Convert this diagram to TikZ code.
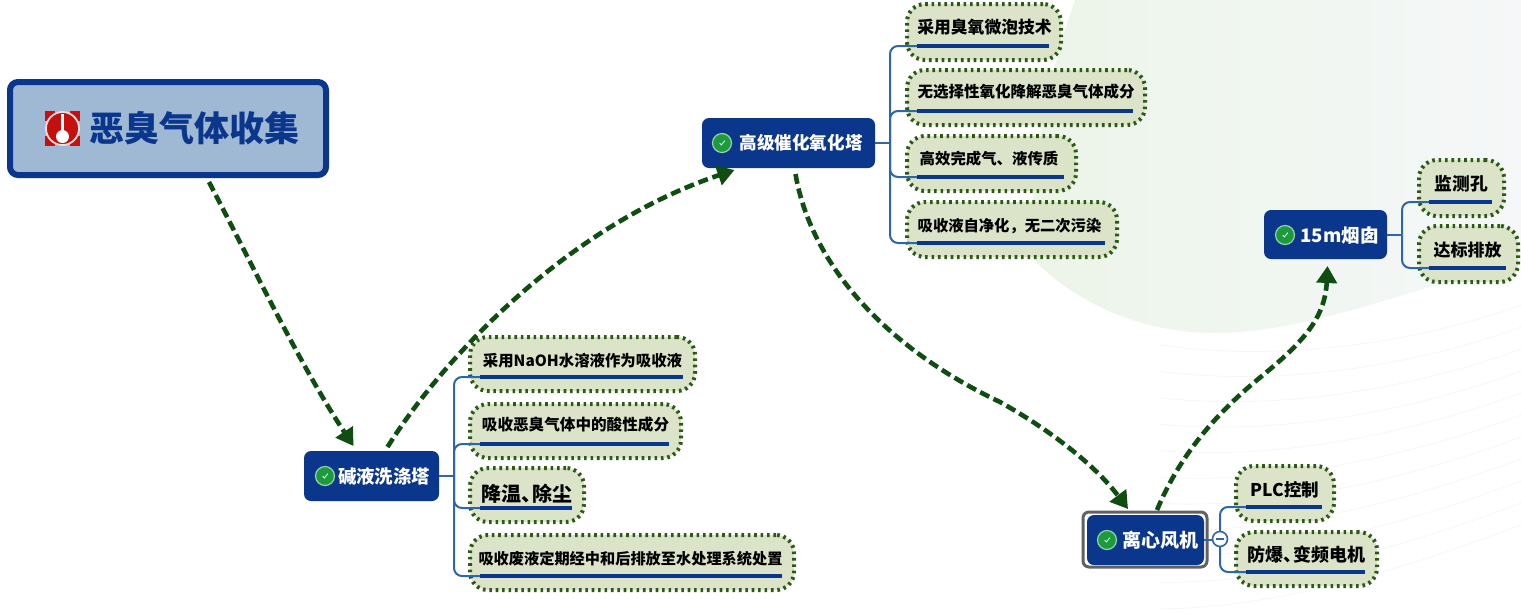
\documentclass[tikz,border=0pt]{standalone}
\usepackage{fontspec}
\setmainfont{Noto Sans CJK SC}
\usetikzlibrary{arrows.meta,calc}
\definecolor{navy}{HTML}{0A368C}
\definecolor{rootfill}{HTML}{9FB9D5}
\definecolor{leaffill}{HTML}{DBE3C9}
\definecolor{dotgreen}{HTML}{2C5A14}
\definecolor{flowgreen}{HTML}{0F4D10}
\definecolor{branchblue}{HTML}{2F66A8}
\definecolor{okgreen}{HTML}{1C9A3C}
\definecolor{alarm}{HTML}{C4100F}
\definecolor{blobleft}{HTML}{ECF5E9}
\definecolor{blobright}{HTML}{F5F7F8}
\tikzset{
  leafbox/.style={draw=dotgreen,fill=leaffill,line width=2pt,dash pattern=on 1.3pt off 1.9pt,rounded corners=9pt,inner sep=0pt,outer sep=0pt,font=\bfseries,text=black},
  hubbox/.style={fill=navy,rounded corners=3.5pt,inner sep=0pt,outer sep=0pt,font=\bfseries,text=white},
  selbox/.style={draw=black!62,fill=white,line width=1.5pt,rounded corners=3pt,inner sep=0pt,outer sep=0pt},
  rootbox/.style={draw=navy,fill=rootfill,line width=3pt,rounded corners=4pt,inner sep=0pt,outer sep=0pt,font=\bfseries,text=navy},
  flow/.style={draw=flowgreen,line width=2.3pt,dash pattern=on 5pt off 2.4pt,-{Triangle[length=8.5pt,width=10pt]}},
  branch/.style={draw=branchblue,line width=1pt,rounded corners=4pt},
  ulline/.style={draw=navy,line width=1.7pt},
  okicon/.style={circle,fill=okgreen,draw=okgreen!45!white,line width=.6pt,minimum size=9.5pt,inner sep=0pt},
  foldmark/.style={circle,fill=white,draw=branchblue,line width=.8pt,minimum size=7.5pt,inner sep=0pt},
  wave/.style={draw=black!3.5,line width=.4pt}
}
\newcommand{\boxnode}[9]{% style,name,x1,y1,x2,y2,dx,fs,text; text centre y in \myT
  \pgfmathsetmacro{\bcx}{(#3+#5)/2}\pgfmathsetmacro{\bcy}{(#4+#6)/2}%
  \pgfmathsetmacro{\bwd}{(#5-#3)*0.5}\pgfmathsetmacro{\bht}{(#6-#4)*0.5}%
  \pgfmathsetmacro{\fsz}{#8*0.5}\pgfmathsetmacro{\rsd}{(\bcy-\myT)*0.5-0.38*\fsz}%
  \pgfmathsetmacro{\dxx}{#7}%
  \node[#1,minimum width=\bwd pt,minimum height=\bht pt] (#2) at (\bcx,\bcy)
   {\raisebox{\rsd pt}[0pt][0pt]{\makebox[0pt]{\hspace*{\dxx pt}\fontsize{\fsz pt}{\fsz pt}\selectfont #9}}};}
\newcommand{\underl}[1]{\draw[ulline] ([shift={(5pt,7pt)}]#1.south west) -- ([shift={(-6pt,7pt)}]#1.south east);}
\newcommand{\twig}[3]{\draw[branch] ([xshift=#2pt]#1.east) |- ([shift={(5pt,7pt)}]#3.south west);}
\begin{document}
\begin{tikzpicture}[x=0.5pt,y=-0.5pt]
\useasboundingbox (0,0) rectangle (1521,612);
% backdrop
\shade[left color=blobleft,right color=blobright]
  (1075,0) .. controls (1050,70) and (1022,190) .. (1036,262)
  .. controls (1085,310) and (1150,333) .. (1215,333)
  .. controls (1310,333) and (1420,285) .. (1521,262) -- (1521,0) -- cycle;
\foreach \yy in {0,22,...,220}{
  \draw[wave] (1160,{345+\yy*1.2}) .. controls (1300,{365+\yy*1.1}) and (1440,{335+\yy}) .. (1521,{305+\yy});
}
% main nodes
\def\myT{128}
\boxnode{rootbox}{root}{10}{82}{326}{175}{26}{35}{恶臭气体收集}
\def\myT{476}
\boxnode{hubbox}{wash}{304}{451}{439}{501}{12.5}{18.4}{碱液洗涤塔}
\def\myT{143}
\boxnode{hubbox}{oxid}{702}{118}{875}{168}{12.5}{17.6}{高级催化氧化塔}
\def\myT{540}
\node[selbox,minimum width=62pt,minimum height=27.5pt] (fanframe) at (1145,539.5) {};
\boxnode{hubbox}{fan}{1087}{515}{1204}{565}{14.5}{19}{离心风机}
\def\myT{235}
\boxnode{hubbox}{stack}{1264}{210}{1387}{259}{14}{18.6}{15m烟囱}
% leaves
\def\myT{361}\boxnode{leafbox}{w1}{470}{337}{695}{391}{0}{15.4}{采用NaOH水溶液作为吸收液}
\def\myT{425}\boxnode{leafbox}{w2}{470}{404}{681}{458}{0}{15.6}{吸收恶臭气体中的酸性成分}
\def\myT{494}\boxnode{leafbox}{w3}{470}{468}{584}{522}{0}{20}{降温、\kern-.45em 除尘}
\def\myT{559}\boxnode{leafbox}{w4}{470}{535}{794}{590}{-1.5}{15.2}{吸收废液定期经中和后排放至水处理系统处置}
\def\myT{27}\boxnode{leafbox}{o1}{907}{4}{1061}{60}{0.5}{16.8}{采用臭氧微泡技术}
\def\myT{92}\boxnode{leafbox}{o2}{907}{70}{1145}{125}{0}{15.5}{无选择性氧化降解恶臭气体成分}
\def\myT{159}\boxnode{leafbox}{o3}{907}{136}{1076}{191}{-2.5}{15.4}{高效完成气、液传质}
\def\myT{226}\boxnode{leafbox}{o4}{907}{202}{1117}{257}{-2.5}{15.3}{吸收液自净化，无二次污染}
\def\myT{490}\boxnode{leafbox}{f1}{1236}{466}{1334}{521}{0}{17.5}{PLC控制}
\def\myT{555}\boxnode{leafbox}{f2}{1236}{532}{1377}{586}{0}{18}{防爆、\kern-.4em 变频电机}
\def\myT{184}\boxnode{leafbox}{s1}{1419}{160}{1504}{216}{0}{17.7}{监测孔}
\def\myT{250}\boxnode{leafbox}{s2}{1419}{226}{1518}{282}{-1}{17}{达标排放}
% trunks and twigs
\draw[branch] (wash.east) -- ++(15,0);
\draw[branch] (oxid.east) -- ++(15,0);
\draw[branch] (fan.east) -- ++(16,0);
\draw[branch] (stack.east) -- ++(15,0);
\foreach \l in {w1,w2,w3,w4}{\twig{wash}{7.5}{\l}}
\foreach \l in {o1,o2,o3,o4}{\twig{oxid}{7.5}{\l}}
\foreach \l in {f1,f2}{\twig{fan}{8}{\l}}
\foreach \l in {s1,s2}{\twig{stack}{7.5}{\l}}
\foreach \l in {w1,w2,w3,w4,o1,o2,o3,o4,f1,f2,s1,s2}{\underl{\l}}
% fold mark
\node[foldmark] (fold) at (1220,539) {};
\draw[branchblue,line width=.8pt] ([xshift=-2pt]fold.center) -- ([xshift=2pt]fold.center);
% status icons
\foreach \n/\x/\y in {iwash/325/476,ioxid/722/143,ifan/1107/540,istack/1285/235}{
  \node[okicon] (\n) at (\x,\y) {};
  \draw[white,line width=.35pt] ([shift={(-1.2pt,0pt)}]\n.center) -- ([shift={(-.3pt,-1pt)}]\n.center) -- ([shift={(1.4pt,1.2pt)}]\n.center);
}
% alarm icon
\foreach \cx/\cy in {45/111,70/111,45/136,70/136}{\fill[alarm] (\cx,\cy) rectangle ++(10,10);}
\node[circle,fill=alarm,draw=white!85!alarm,line width=.9pt,minimum size=16.5pt,inner sep=0pt] (ialarm) at (62.5,128.5) {};
\fill[white] (62.5,136.5) circle (6.5);
\fill[white] (60.8,114) rectangle (64.2,134);
% flows
\draw[flow] ([xshift=-58.5pt,yshift=-3.5pt]root.south east) .. controls (255,270) and (300,365) .. ([xshift=-9pt,yshift=2.5pt]wash.north);
\draw[flow] ([xshift=8pt,yshift=2pt]wash.north) .. controls (445,355) and (570,225) .. ([xshift=-27pt,yshift=-1pt]oxid.south);
\draw[flow] ([xshift=3.5pt,yshift=-3pt]oxid.south) .. controls (810,260) and (880,345) .. (1000,402) .. controls (1050,430) and (1095,465) .. ([xshift=-8.5pt,yshift=1.5pt]fanframe.north);
\draw[flow] ([xshift=6pt,yshift=1pt]fanframe.north) .. controls (1180,455) and (1215,415) .. (1257,380) .. controls (1300,345) and (1325,320) .. ([xshift=1pt,yshift=-3.5pt]stack.south);
\end{tikzpicture}
\end{document}
